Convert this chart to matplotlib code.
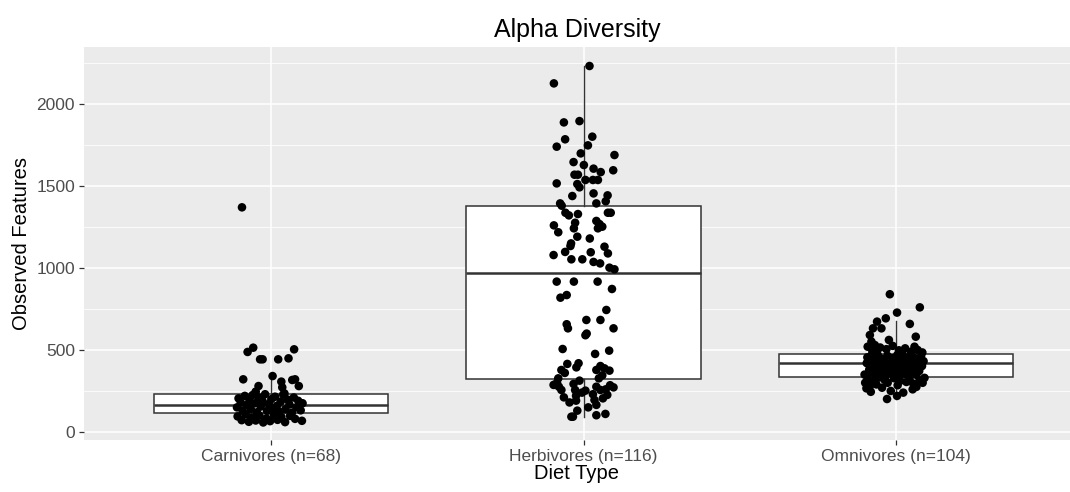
import matplotlib.pyplot as plt
from matplotlib.ticker import MultipleLocator

plt.rcParams['font.family'] = ['Liberation Sans', 'DejaVu Sans']

# ---- data -----------------------------------------------------------------
categories = ["Carnivores (n=68)", "Herbivores (n=116)", "Omnivores (n=104)"]

# box statistics (Observed Features)
box_q1 = [116, 323, 335]
box_med = [165, 970, 421]
box_q3 = [232, 1378, 476]
whisker_lo = [58, 93, 201]
whisker_hi = [341, 2232, 679]

# jittered samples: horizontal offset from the category centre, value
carn_jitter = [
    -0.094, -0.076, -0.058, -0.036, -0.028, 0.022, 0.055, 0.073, -0.090, 0.004,
    0.032, 0.067, 0.076, 0.088, -0.041, 0.035, -0.050, 0.042,
    -0.105, -0.098, -0.110, -0.092, -0.085, -0.078, -0.070, -0.066, -0.060, -0.052,
    -0.046, -0.040, -0.034, -0.028, -0.020, -0.014, -0.008, 0.000, 0.006, 0.012,
    0.018, 0.024, 0.030, 0.038, 0.045, 0.052, 0.058, 0.066, 0.072, 0.080,
    0.086, 0.094, 0.100,
    -0.108, -0.095, -0.082, -0.072, -0.062, -0.050, -0.038, -0.026, -0.016, -0.004,
    0.008, 0.020, 0.032, 0.044, 0.060, 0.076, 0.098,
]
carn_values = [
    1370, 488, 514, 443, 443, 443, 449, 504, 321, 341,
    307, 317, 321, 280, 280, 272, 246, 235,
    205, 180, 150, 130, 220, 165, 195, 140, 225, 175,
    120, 210, 155, 188, 230, 128, 170, 200, 145, 215,
    160, 125, 185, 228, 138, 198, 168, 118, 210, 150,
    190, 132, 175,
    95, 72, 108, 62, 88, 70, 100, 58, 82, 66,
    105, 74, 92, 60, 98, 80, 68,
]

herb_jitter = [
    0.019, -0.095, -0.063, -0.013, -0.059, 0.028, -0.086, 0.014, -0.009, 0.099,
    -0.032, 0.001, 0.032, 0.055, 0.095, -0.029, -0.018, 0.006, 0.030, 0.046,
    -0.020, -0.013, -0.086, 0.032, 0.077, 0.071, -0.036, 0.041, -0.075, -0.070,
    -0.058, -0.047, -0.018, 0.078, 0.087, -0.095, -0.027, -0.031, -0.081, -0.020,
    0.041, 0.051, 0.060, 0.046,
    0.067, 0.078, -0.042, -0.059, -0.096, -0.039, -0.004, 0.023, 0.032, 0.053,
    0.083, 0.099, -0.086, -0.031, 0.045, 0.091, -0.074, -0.054, 0.073, 0.009,
    0.054, -0.054, -0.050, 0.096, 0.006, -0.067, 0.082, 0.037, -0.052, -0.023,
    -0.016, -0.071, 0.041, 0.054, 0.067, 0.083, -0.081, 0.049,
    -0.096, -0.079, -0.071, -0.032, -0.013, -0.027, 0.006, -0.024, -0.063, -0.024,
    0.041, 0.054, 0.071, 0.096, 0.076, 0.062, 0.035, 0.041,
    -0.039, -0.034, 0.041,
    0.020, -0.040, 0.060, -0.060, 0.010, -0.085, 0.085, -0.005, 0.030, -0.045,
    0.015, -0.020, 0.070,
]
herb_values = [
    2232, 2126, 1888, 1896, 1785, 1801, 1740, 1748, 1699, 1689,
    1646, 1628, 1606, 1585, 1596, 1569, 1569, 1537, 1537, 1537,
    1512, 1492, 1516, 1455, 1443, 1407, 1439, 1394, 1394, 1380,
    1337, 1321, 1329, 1337, 1337, 1260, 1276, 1242, 1218, 1191,
    1287, 1268, 1252, 1242,
    1130, 1089, 1134, 1098, 1079, 1053, 1053, 1096, 1037, 1028,
    1002, 992, 917, 917, 917, 872, 819, 835, 744, 683,
    683, 657, 632, 632, 590, 506, 496, 476, 415, 394,
    419, 378, 378, 402, 388, 374, 327, 327,
    287, 276, 256, 293, 313, 256, 252, 221, 211, 191,
    276, 256, 260, 272, 226, 205, 195, 165,
    93, 93, 102,
    1180, 1150, 345, 360, 600, 300, 285, 240, 230, 180,
    150, 130, 110,
]

omni_jitter = [
    -0.019, 0.077, 0.004, -0.032, -0.060, -0.073, -0.083, -0.046, 0.045, 0.064,
    -0.022, -0.078, -0.067,
    -0.090, -0.050, -0.030, -0.010, 0.010, 0.030, 0.050, 0.070, 0.085, -0.075,
    -0.060, 0.020, 0.060,
    -0.100, -0.093, -0.091, -0.085, -0.086, -0.078, -0.077, -0.069, -0.066, -0.065,
    -0.058, -0.055, -0.051, -0.047, -0.045, -0.038, -0.036, -0.033, -0.027, -0.025,
    -0.018, -0.017, -0.011, -0.009, -0.003, 0.001, 0.005, 0.009, 0.013, 0.015,
    0.021, 0.026, 0.027, 0.033, 0.037, 0.039, 0.046, 0.047, 0.053, 0.058,
    0.059, 0.066, 0.067, 0.073, 0.075, 0.081, 0.084, 0.089, -0.070, 0.011,
    -0.030, 0.050,
    -0.094, -0.083, -0.028, 0.004, 0.054,
    -0.098, -0.090, -0.080, -0.070, -0.062, -0.054, -0.044, -0.036, -0.026, -0.016,
    -0.006, 0.006, 0.014, 0.024, 0.034, 0.044, 0.056, 0.066, 0.076, 0.086,
    0.092,
]
omni_values = [
    840, 760, 728, 693, 673, 632, 591, 632, 659, 581,
    561, 551, 530,
    520, 515, 505, 525, 498, 510, 490, 500, 485, 495,
    480, 482, 520,
    350, 420, 455, 380, 440, 365, 470, 400, 345, 430,
    390, 460, 355, 415, 445, 375, 425, 338, 465, 395,
    410, 360, 450, 385, 435, 370, 470, 405, 342, 428,
    458, 378, 418, 352, 442, 398, 468, 362, 425, 388,
    452, 348, 412, 438, 372, 462, 402, 432, 422, 421,
    419, 423,
    266, 280, 201, 220, 260,
    300, 325, 245, 310, 290, 332, 270, 318, 300, 250,
    328, 285, 312, 240, 305, 322, 295, 275, 315, 300,
    330,
]

groups = [
    (carn_jitter, carn_values),
    (herb_jitter, herb_values),
    (omni_jitter, omni_values),
]

# ---- figure -----------------------------------------------------------------
fig = plt.figure(figsize=(10.70, 4.92), dpi=100)
ax = fig.add_axes([0.0785, 0.1057, 0.9215, 0.7988])
ax.set_facecolor("#EBEBEB")

positions = list(range(1, len(categories) + 1))
stats = []
for i, label in enumerate(categories):
    stats.append(dict(
        label=label, q1=box_q1[i], med=box_med[i], q3=box_q3[i],
        whislo=whisker_lo[i], whishi=whisker_hi[i], fliers=[],
    ))

edge = "#333333"
ax.bxp(
    stats, positions=positions, widths=0.75, patch_artist=True,
    showfliers=False, showcaps=False,
    boxprops=dict(facecolor="white", edgecolor=edge, linewidth=1.1),
    medianprops=dict(color=edge, linewidth=1.8),
    whiskerprops=dict(color=edge, linewidth=1.0),
    zorder=2,
)

for pos, (jit, vals) in zip(positions, groups):
    xs = [pos + d for d in jit]
    ax.scatter(xs, vals, s=38, color="black", edgecolors="none", zorder=3)

ax.set_xlim(0.4, 3.558)
ax.set_ylim(-49, 2348)
ax.set_xticks(positions)
ax.set_xticklabels(categories)
ax.yaxis.set_major_locator(MultipleLocator(500))
ax.yaxis.set_minor_locator(MultipleLocator(250))

ax.set_axisbelow(True)
ax.grid(which="major", color="white", linewidth=1.1)
ax.grid(which="minor", axis="y", color="white", linewidth=0.55)
for s in ax.spines.values():
    s.set_visible(False)

ax.tick_params(axis="both", which="major", length=3.5, width=0.9,
               color=edge, labelcolor="#4D4D4D", labelsize=12.5, pad=3)
ax.tick_params(axis="y", which="minor", length=0)

ax.set_xlabel("Diet Type", fontsize=14.5, labelpad=0)
ax.set_ylabel("Observed Features", fontsize=14.5, labelpad=4)
ax.set_title("Alpha Diversity", fontsize=18, pad=7)

fig.savefig("out.png", dpi=100)
